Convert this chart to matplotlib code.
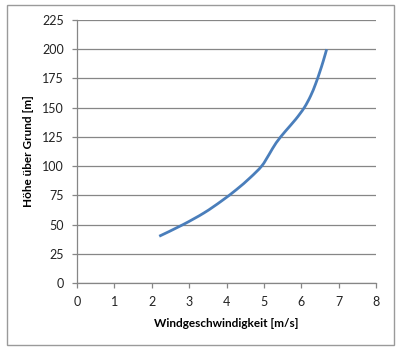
import matplotlib
matplotlib.use('Agg')
import matplotlib.pyplot as plt
import numpy as np
from matplotlib.patches import Rectangle, PathPatch
from matplotlib.path import Path

# wind profile
hoehe = [40, 50, 60, 70, 80, 90, 100, 110, 120, 130, 140, 150, 160, 170, 180, 190, 200]
wind = [2.2, 2.84, 3.4, 3.86, 4.27, 4.63, 4.94, 5.14, 5.33, 5.58, 5.85, 6.08, 6.25, 6.38, 6.49, 6.59, 6.68]
xticks = [0, 1, 2, 3, 4, 5, 6, 7, 8]
yticks = [0, 25, 50, 75, 100, 125, 150, 175, 200, 225]

plt.rcParams['font.family'] = ['Lato', 'DejaVu Sans']
grey = '#868686'


def smooth_path(xs, ys, t=1 / 6.0):
    # excel style smoothed line: catmull-rom segments as cubic beziers
    p = np.column_stack([xs, ys]).astype(float)
    verts = [p[0]]
    codes = [Path.MOVETO]
    n = len(p)
    for i in range(n - 1):
        p0 = p[i - 1] if i > 0 else p[i]
        p3 = p[i + 2] if i + 2 < n else p[i + 1]
        c1 = p[i] + (p[i + 1] - p0) * t
        c2 = p[i + 1] - (p3 - p[i]) * t
        verts += [c1, c2, p[i + 1]]
        codes += [Path.CURVE4] * 3
    return Path(verts, codes)


fig = plt.figure(figsize=(4.0, 3.52), dpi=100)
fig.patches.append(Rectangle((7 / 400, 1 - 345 / 352), 387 / 400, 340 / 352,
                             transform=fig.transFigure, fill=False,
                             edgecolor='#9a9a9a', linewidth=1.0))
ax = fig.add_axes([77 / 400, 1 - 283 / 352, 299 / 400, 263 / 352])

ax.add_patch(PathPatch(smooth_path(wind, hoehe), facecolor='none',
                       edgecolor='#4a7ebb', linewidth=2.0, capstyle='butt'))

ax.set_xlim(0, 8)
ax.set_ylim(0, 225)
ax.set_xticks(xticks)
ax.set_yticks(yticks)
ax.yaxis.grid(True, color=grey, linewidth=0.9)
ax.set_axisbelow(True)
for s in ['top', 'right']:
    ax.spines[s].set_visible(False)
for s in ['left', 'bottom']:
    ax.spines[s].set_color(grey)
    ax.spines[s].set_linewidth(0.9)
ax.tick_params(direction='out', length=3.5, width=0.9, color=grey,
               labelsize=9, labelcolor='#222222', pad=6)

ax.set_xlabel('Windgeschwindigkeit [m/s]', fontsize=8.5, fontweight='bold', labelpad=7)
ax.set_ylabel('Höhe über Grund [m]', fontsize=8.5, fontweight='bold', labelpad=6)

fig.savefig('out.png', dpi=100)
